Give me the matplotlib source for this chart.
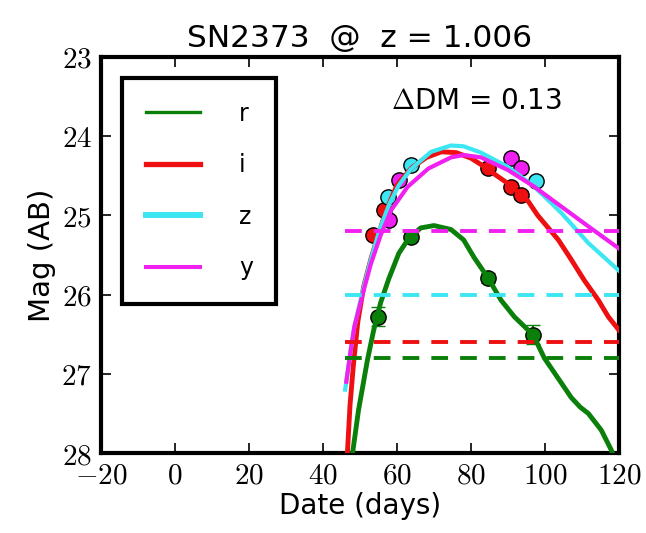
import matplotlib
matplotlib.use("Agg")
import matplotlib.pyplot as plt
from matplotlib.lines import Line2D
from matplotlib.ticker import FuncFormatter, MultipleLocator

# observed photometry (day, AB mag, error)
r_days = [54.8, 63.7, 84.6, 96.8]
r_mags = [26.28, 25.27, 25.79, 26.51]
r_errs = [0.12, 0.06, 0.06, 0.12]

i_days = [53.4, 56.4, 84.6, 90.8, 93.5]
i_mags = [25.25, 24.93, 24.40, 24.64, 24.74]
i_errs = [0.05, 0.05, 0.04, 0.05, 0.05]

z_days = [57.5, 63.7, 97.6]
z_mags = [24.77, 24.37, 24.57]
z_errs = [0.05, 0.04, 0.05]

y_days = [57.8, 60.5, 90.8, 93.5]
y_mags = [25.06, 24.55, 24.28, 24.40]
y_errs = [0.05, 0.05, 0.05, 0.05]

# model light curves
r_fit_days = [48.0, 49.6, 52.0, 53.7, 55.6, 57.8, 60.5, 63.2, 66.4, 70.0, 74.6, 78.0,
              80.8, 84.6, 88.1, 91.7, 96.8, 99.8, 103.6, 107.1, 109.5, 111.7, 115.2, 117.9, 118.6]
r_fit_mags = [28.0, 27.46, 26.83, 26.45, 26.10, 25.80, 25.48, 25.29, 25.16, 25.13, 25.18, 25.31,
              25.53, 25.79, 26.07, 26.28, 26.51, 26.80, 27.06, 27.30, 27.42, 27.50, 27.71, 27.96, 28.05]

i_fit_days = [46.6, 47.3, 48.2, 49.4, 51.0, 52.9, 54.8, 57.0, 60.0, 64.0, 68.0, 72.0, 76.0,
              80.0, 82.7, 86.0, 90.0, 95.4, 98.0, 103.6, 107.1, 110.6, 114.4, 117.1, 120.0]
i_fit_mags = [28.0, 27.4, 26.9, 26.35, 25.9, 25.56, 25.27, 24.95, 24.62, 24.40, 24.27, 24.20, 24.21,
              24.28, 24.36, 24.47, 24.60, 24.82, 25.0, 25.31, 25.56, 25.82, 26.07, 26.28, 26.45]

z_fit_days = [46.0, 47.2, 48.3, 50.5, 52.7, 55.3, 58.0, 60.5, 63.7, 69.2, 74.6, 78.0, 82.7,
              90.0, 97.1, 104.4, 111.7, 120.0]
z_fit_mags = [27.2, 26.8, 26.45, 26.0, 25.6, 25.18, 24.85, 24.62, 24.42, 24.2, 24.12, 24.13, 24.21,
              24.39, 24.64, 24.97, 25.35, 25.7]

y_fit_days = [46.3, 47.5, 48.5, 50.7, 52.9, 55.6, 58.5, 62.9, 68.5, 74.6, 78.0, 82.7, 90.0,
              97.1, 104.4, 111.7, 120.0]
y_fit_mags = [27.1, 26.7, 26.4, 26.0, 25.62, 25.25, 24.93, 24.64, 24.41, 24.27, 24.24, 24.27, 24.43,
              24.64, 24.89, 25.14, 25.42]

# detection limits (dashed)
limit_start, limit_end = 46.0, 120.0
r_limit, i_limit, z_limit, y_limit = 26.8, 26.6, 26.0, 25.2

bands = ["r", "i", "z", "y"]
colors = {"r": "#0a800a", "i": "#ee1010", "z": "#3ce6f2", "y": "#f020f0"}
fit_lw = {"r": 3.5, "i": 3.5, "z": 3.0, "y": 3.0}
leg_lw = {"r": 2.4, "i": 3.8, "z": 4.3, "y": 2.9}

data = {
    "r": (r_days, r_mags, r_errs, r_fit_days, r_fit_mags, r_limit),
    "i": (i_days, i_mags, i_errs, i_fit_days, i_fit_mags, i_limit),
    "z": (z_days, z_mags, z_errs, z_fit_days, z_fit_mags, z_limit),
    "y": (y_days, y_mags, y_errs, y_fit_days, y_fit_mags, y_limit),
}

plt.rcParams["font.family"] = "DejaVu Sans"
plt.rcParams["mathtext.fontset"] = "cm"

fig = plt.figure(figsize=(6.46, 5.33), dpi=100)
ax = fig.add_axes([0.1563, 0.150, 0.8019, 0.7436])

for b in bands:
    d, m, e, fd, fm, lim = data[b]
    c = colors[b]
    ax.errorbar(d, m, yerr=e, fmt="o", color=c, ecolor=c, mec="k", mew=1.0, ms=11,
                elinewidth=1.5, capsize=5, capthick=1.5, zorder=3)
    ax.plot(fd, fm, "-", color=c, lw=fit_lw[b], zorder=4)
    ax.plot([limit_start, limit_end], [lim, lim], color=c, lw=2.8,
            linestyle=(0, (4.3, 3.1)), zorder=5)

ax.text(58.3, 23.56, r"$\Delta$DM = 0.13", fontsize=20, ha="left", va="center")

ax.set_xlim(-20, 120)
ax.set_ylim(28, 23)
ax.xaxis.set_major_locator(MultipleLocator(20))
ax.yaxis.set_major_locator(MultipleLocator(1))
fmt = FuncFormatter(lambda v, p: "$%d$" % round(v))
ax.xaxis.set_major_formatter(fmt)
ax.yaxis.set_major_formatter(fmt)
ax.tick_params(direction="in", top=True, right=True, length=7, width=1.2, labelsize=21)
ax.tick_params(axis="x", pad=6)
ax.tick_params(axis="y", pad=6.5)
for s in ax.spines.values():
    s.set_linewidth(3)

ax.set_xlabel("Date (days)", fontsize=20, labelpad=2)
ax.set_ylabel("Mag (AB)", fontsize=21, labelpad=4)
ax.set_title("SN2373  @  z = 1.006", fontsize=22.5, pad=7)

handles = [Line2D([], [], color=colors[b], lw=leg_lw[b]) for b in bands]
leg = ax.legend(handles, bands, loc="upper left", bbox_to_anchor=(0.0405, 0.946),
                borderaxespad=0, fontsize=17, frameon=True, fancybox=False,
                borderpad=1.0, labelspacing=1.16, handlelength=2.3, handletextpad=1.65)
leg.get_frame().set_edgecolor("k")
leg.get_frame().set_linewidth(3)
leg.get_frame().set_alpha(1)

fig.savefig("out.png", dpi=100)
